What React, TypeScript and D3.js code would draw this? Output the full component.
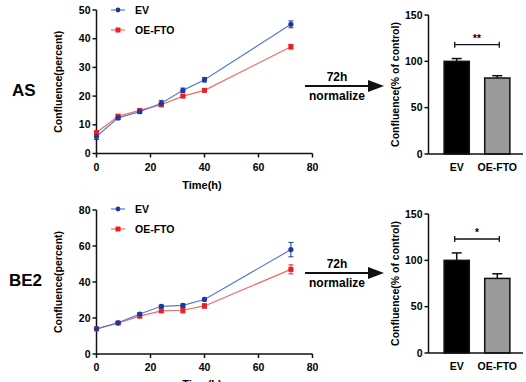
import React from "react";
import * as d3 from "d3";

const times = [0, 8, 16, 24, 32, 40, 72];
const asEV = [5.9, 12.4, 14.6, 17.5, 22.0, 25.7, 45.0];
const asEVErr = [1.0, 0.6, 0.7, 1.0, 0.8, 0.8, 1.2];
const asOE = [7.3, 13.0, 15.0, 17.0, 20.0, 22.0, 37.2];
const asOEErr = [0.6, 0.5, 0.5, 0.7, 0.5, 0.5, 0.8];
const beEV = [14.0, 17.3, 22.2, 26.5, 27.0, 30.3, 58.0];
const beEVErr = [0.5, 0.5, 0.8, 0.7, 0.8, 0.8, 4.0];
const beOE = [14.0, 17.2, 21.0, 24.0, 24.3, 26.7, 47.0];
const beOEErr = [0.5, 0.5, 0.6, 1.0, 1.5, 1.2, 2.5];
const barCats = ["EV", "OE-FTO"];
const asBar = [100, 82];
const asBarErr = [3, 2.5];
const beBar = [100, 80.5];
const beBarErr = [8, 5];
const seriesNames = ["EV", "OE-FTO"];
const lineTicksAS = [0, 10, 20, 30, 40, 50];
const lineTicksBE = [0, 20, 40, 60, 80];
const xTicks = [0, 20, 40, 60, 80];
const barTicks = [0, 50, 100, 150];

const FONT = "'Liberation Sans', Arial, sans-serif";
const BLUE = "#1c3a9e";
const BLUE_L = "#5a7cd0";
const RED = "#ee1c24";
const RED_L = "#f26a6a";

function LineChart({ top, bottom, yMax, yTicks, ev, evErr, oe, oeErr, label, labelY, timeY, legendY }: any) {
  const x = d3.scaleLinear().domain([0, 80]).range([96.5, 312.5]);
  const y = d3.scaleLinear().domain([0, yMax]).range([bottom, top]);
  const line = d3.line<number>().x((_, i) => x(times[i])).y((d) => y(d));
  const errs = (vals: number[], err: number[], col: string) =>
    vals.map((v, i) => (
      <g key={i} stroke={col} strokeWidth={1}>
        <line x1={x(times[i])} x2={x(times[i])} y1={y(v - err[i])} y2={y(v + err[i])} />
        <line x1={x(times[i]) - 2.5} x2={x(times[i]) + 2.5} y1={y(v - err[i])} y2={y(v - err[i])} />
        <line x1={x(times[i]) - 2.5} x2={x(times[i]) + 2.5} y1={y(v + err[i])} y2={y(v + err[i])} />
      </g>
    ));
  return (
    <g fontFamily={FONT} fontWeight="bold">
      <text x={label === "AS" ? 12 : 9} y={labelY} fontSize={17}>{label}</text>
      <text transform={`translate(62,${(top + bottom) / 2}) rotate(-90)`} textAnchor="middle" fontSize={10.5}>Confluence(percent)</text>
      <line x1={x(0)} x2={x(0)} y1={top} y2={bottom} stroke="#111" strokeWidth={1.5} />
      <line x1={x(0)} x2={x(80)} y1={bottom} y2={bottom} stroke="#111" strokeWidth={1.5} />
      {yTicks.map((t: number) => (
        <g key={t}>
          <line x1={x(0) - 4} x2={x(0)} y1={y(t)} y2={y(t)} stroke="#111" strokeWidth={1.5} />
          <text x={x(0) - 6} y={y(t) + 3.5} textAnchor="end" fontSize={10.5}>{t}</text>
        </g>
      ))}
      {xTicks.map((t) => (
        <g key={t}>
          <line x1={x(t)} x2={x(t)} y1={bottom} y2={bottom + 4} stroke="#111" strokeWidth={1.5} />
          <text x={x(t)} y={bottom + 17} textAnchor="middle" fontSize={10.5}>{t}</text>
        </g>
      ))}
      <text x={202} y={timeY} textAnchor="middle" fontSize={11}>Time(h)</text>
      <path d={line(oe) || ""} fill="none" stroke={RED_L} strokeWidth={1.2} />
      <path d={line(ev) || ""} fill="none" stroke={BLUE_L} strokeWidth={1.2} />
      {errs(oe, oeErr, RED)}
      {errs(ev, evErr, BLUE)}
      {oe.map((v: number, i: number) => (
        <rect key={i} x={x(times[i]) - 2.5} y={y(v) - 2.5} width={5} height={5} fill={RED} />
      ))}
      {ev.map((v: number, i: number) => (
        <circle key={i} cx={x(times[i])} cy={y(v)} r={2.6} fill={BLUE} />
      ))}
      <line x1={111} x2={125} y1={legendY} y2={legendY} stroke={BLUE_L} strokeWidth={1.2} />
      <circle cx={118} cy={legendY} r={2.4} fill={BLUE} />
      <text x={135} y={legendY + 3.8} fontSize={10.5}>{seriesNames[0]}</text>
      <line x1={111} x2={125} y1={legendY + 20} y2={legendY + 20} stroke={RED_L} strokeWidth={1.2} />
      <rect x={115.5} y={legendY + 17.5} width={5} height={5} fill={RED} />
      <text x={135} y={legendY + 23.8} fontSize={10.5}>{seriesNames[1]}</text>
    </g>
  );
}

function BarChart({ top, bottom, vals, errs, sig, arrowY }: any) {
  const y = d3.scaleLinear().domain([0, 150]).range([bottom, top]);
  const xb = d3.scaleBand().domain(barCats).range([436, 518]).paddingInner(0.38).paddingOuter(0.2);
  const ax = 428.5;
  const cx = (c: string) => (xb(c) as number) + xb.bandwidth() / 2;
  const bracketY = y(Math.max(vals[0] + errs[0], vals[1] + errs[1]) + 15);
  return (
    <g fontFamily={FONT} fontWeight="bold">
      <line x1={305} x2={370} y1={arrowY} y2={arrowY} stroke="#111" strokeWidth={1.8} />
      <path d={`M368,${arrowY - 6} L384,${arrowY} L368,${arrowY + 6} Z`} fill="#111" />
      <text x={337} y={arrowY - 5} textAnchor="middle" fontSize={12}>72h</text>
      <text x={337} y={arrowY + 14} textAnchor="middle" fontSize={12}>normalize</text>
      <text transform={`translate(399,${(top + bottom) / 2}) rotate(-90)`} textAnchor="middle" fontSize={10.5}>Confluence(% of control)</text>
      {vals.map((v: number, i: number) => {
        const c = barCats[i];
        const x0 = xb(c) as number;
        return (
          <g key={c}>
            <line x1={cx(c)} x2={cx(c)} y1={y(v)} y2={y(v + errs[i])} stroke="#111" strokeWidth={1.5} />
            <line x1={cx(c) - 5} x2={cx(c) + 5} y1={y(v + errs[i])} y2={y(v + errs[i])} stroke="#111" strokeWidth={1.5} />
            <rect x={x0} y={y(v)} width={xb.bandwidth()} height={bottom - y(v)} fill={i === 0 ? "#000" : "#9a9a9a"} stroke="#111" strokeWidth={1.5} />
            <text x={cx(c)} y={bottom + 17} textAnchor="middle" fontSize={10.5}>{c}</text>
          </g>
        );
      })}
      <line x1={ax} x2={ax} y1={top} y2={bottom} stroke="#111" strokeWidth={1.5} />
      <line x1={ax} x2={523} y1={bottom} y2={bottom} stroke="#111" strokeWidth={1.5} />
      {barTicks.map((t) => (
        <g key={t}>
          <line x1={ax - 4} x2={ax} y1={y(t)} y2={y(t)} stroke="#111" strokeWidth={1.5} />
          <text x={ax - 6} y={y(t) + 3.5} textAnchor="end" fontSize={10.5}>{t}</text>
        </g>
      ))}
      <g stroke="#111" strokeWidth={1.3}>
        <line x1={cx(barCats[0]) - 2} x2={cx(barCats[1]) + 2} y1={bracketY} y2={bracketY} />
        <line x1={cx(barCats[0]) - 2} x2={cx(barCats[0]) - 2} y1={bracketY - 3} y2={bracketY + 3} />
        <line x1={cx(barCats[1]) + 2} x2={cx(barCats[1]) + 2} y1={bracketY - 3} y2={bracketY + 3} />
      </g>
      <text x={(cx(barCats[0]) + cx(barCats[1])) / 2} y={bracketY - 3} textAnchor="middle" fontSize={10}>{sig}</text>
    </g>
  );
}

export default function App() {
  return (
    <svg width={526} height={382} style={{ position: "absolute", left: 0, top: 0, background: "#fff" }}>
      <LineChart top={10} bottom={153.5} yMax={50} yTicks={lineTicksAS} ev={asEV} evErr={asEVErr} oe={asOE} oeErr={asOEErr} label="AS" labelY={96} timeY={189} legendY={10} />
      <LineChart top={210} bottom={354} yMax={80} yTicks={lineTicksBE} ev={beEV} evErr={beEVErr} oe={beOE} oeErr={beOEErr} label="BE2" labelY={286} timeY={388} legendY={209} />
      <BarChart top={15} bottom={154} vals={asBar} errs={asBarErr} sig="**" arrowY={86} />
      <BarChart top={214} bottom={353} vals={beBar} errs={beBarErr} sig="*" arrowY={273} />
    </svg>
  );
}
